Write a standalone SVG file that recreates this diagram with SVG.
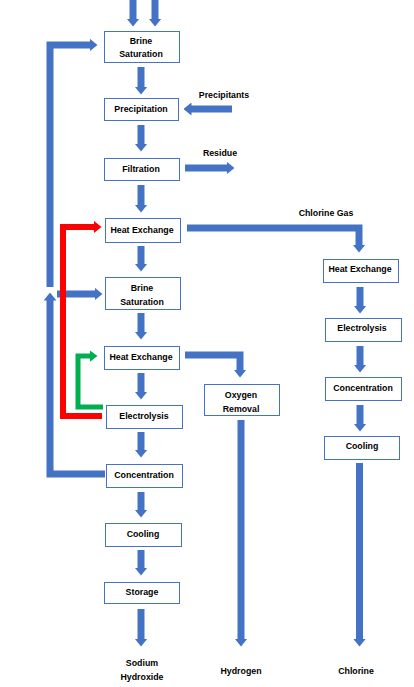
<svg xmlns="http://www.w3.org/2000/svg" width="414" height="687" viewBox="0 0 414 687">
<defs>
<style>
.box{fill:#fff;stroke:#4472C4;stroke-width:1}
.t{font-family:"Liberation Sans",Arial,sans-serif;font-size:8.8px;font-weight:bold;fill:#000;text-anchor:middle}
.b{fill:none;stroke:#4472C4;stroke-width:7;marker-end:url(#hb)}
.bn{fill:none;stroke:#4472C4;stroke-width:7}
.r{fill:none;stroke:#FF0000;stroke-width:6;marker-end:url(#hr)}
.g{fill:none;stroke:#00B050;stroke-width:5;marker-end:url(#hg)}
</style>
<marker id="hb" markerUnits="userSpaceOnUse" viewBox="0 0 8 13" markerWidth="8" markerHeight="13" refX="0.5" refY="6.5" orient="auto"><path d="M0,0 L8,6.5 L0,13 z" fill="#4472C4"/></marker>
<marker id="hr" markerUnits="userSpaceOnUse" viewBox="0 0 8 13" markerWidth="8" markerHeight="13" refX="0.5" refY="6.5" orient="auto"><path d="M0,0 L8,6.5 L0,13 z" fill="#FF0000"/></marker>
<marker id="hg" markerUnits="userSpaceOnUse" viewBox="0 0 8 12" markerWidth="8" markerHeight="12" refX="0.5" refY="6" orient="auto"><path d="M0,0 L8,6 L0,12 z" fill="#00B050"/></marker>
</defs>
<rect width="414" height="687" fill="#fff"/>
<g id="connectors">
<path class="b" d="M133,0 V19"/>
<path class="b" d="M155,0 V19"/>
<path class="b" d="M141,67 V87"/>
<path class="b" d="M232,109 H191"/>
<path class="b" d="M141,125 V144"/>
<path class="b" d="M185,168 H227"/>
<path class="b" d="M141,185 V205"/>
<path class="b" d="M141,246 V264"/>
<path class="b" d="M141,313 V332"/>
<path class="b" d="M141,373 V392"/>
<path class="b" d="M141,432 V450"/>
<path class="b" d="M141,492 V510"/>
<path class="b" d="M141,550 V568"/>
<path class="b" d="M141,609 V639"/>
<path class="b" d="M187,228 H359 V245"/>
<path class="b" d="M360,287 V306"/>
<path class="b" d="M360,346 V365"/>
<path class="b" d="M360,405 V424"/>
<path class="b" d="M359.5,463 V639"/>
<path class="b" d="M185,355 H240 V370"/>
<path class="b" d="M241,420 V639"/>
<path class="b" d="M105,474 H50 V300"/>
<path class="b" d="M50,287 V45 H90"/>
<path class="b" d="M57,294 H95"/>
<path class="r" d="M102,416 H63 V227 H94"/>
<path class="g" d="M103,407 H78 V356 H90"/>
</g>
<g id="brine1"><rect class="box" x="104.5" y="31.5" width="75" height="31"/><text class="t" x="141" y="44">Brine</text><text class="t" x="141" y="57">Saturation</text></g>
<g id="precipitation"><rect class="box" x="104.5" y="98.5" width="74" height="22"/><text class="t" x="141" y="112">Precipitation</text></g>
<g id="filtration"><rect class="box" x="104.5" y="158.5" width="75" height="22"/><text class="t" x="141" y="172">Filtration</text></g>
<g id="heatex1"><rect class="box" x="105.5" y="218.5" width="75" height="24"/><text class="t" x="142" y="233">Heat Exchange</text></g>
<g id="brine2"><rect class="box" x="105.5" y="277.5" width="75" height="32"/><text class="t" x="142" y="291">Brine</text><text class="t" x="142" y="305">Saturation</text></g>
<g id="heatex2"><rect class="box" x="104.5" y="346.5" width="75" height="23"/><text class="t" x="141" y="360">Heat Exchange</text></g>
<g id="electrolysis"><rect class="box" x="106.5" y="405.5" width="76" height="23"/><text class="t" x="144" y="419">Electrolysis</text></g>
<g id="concentration"><rect class="box" x="106.5" y="464.5" width="76" height="23"/><text class="t" x="144" y="478">Concentration</text></g>
<g id="cooling"><rect class="box" x="105.5" y="523.5" width="76" height="23"/><text class="t" x="143" y="537">Cooling</text></g>
<g id="storage"><rect class="box" x="104.5" y="582.5" width="75" height="21"/><text class="t" x="142" y="595">Storage</text></g>
<g id="oxygen"><rect class="box" x="204.5" y="384.5" width="75" height="31"/><text class="t" x="241" y="398">Oxygen</text><text class="t" x="241" y="412">Removal</text></g>
<g id="heatexR"><rect class="box" x="323.5" y="259.5" width="75" height="23"/><text class="t" x="360" y="272">Heat Exchange</text></g>
<g id="electrolysisR"><rect class="box" x="325.5" y="318.5" width="76" height="23"/><text class="t" x="362" y="331">Electrolysis</text></g>
<g id="concentrationR"><rect class="box" x="325.5" y="377.5" width="76" height="23"/><text class="t" x="363" y="391">Concentration</text></g>
<g id="coolingR"><rect class="box" x="324.5" y="436.5" width="75" height="23"/><text class="t" x="362" y="449">Cooling</text></g>
<g id="labels">
<text class="t" x="224" y="98">Precipitants</text>
<text class="t" x="220" y="156">Residue</text>
<text class="t" x="326" y="216">Chlorine Gas</text>
<text class="t" x="142" y="666">Sodium</text>
<text class="t" x="142" y="680">Hydroxide</text>
<text class="t" x="241" y="674">Hydrogen</text>
<text class="t" x="356" y="674">Chlorine</text>
</g>
</svg>
